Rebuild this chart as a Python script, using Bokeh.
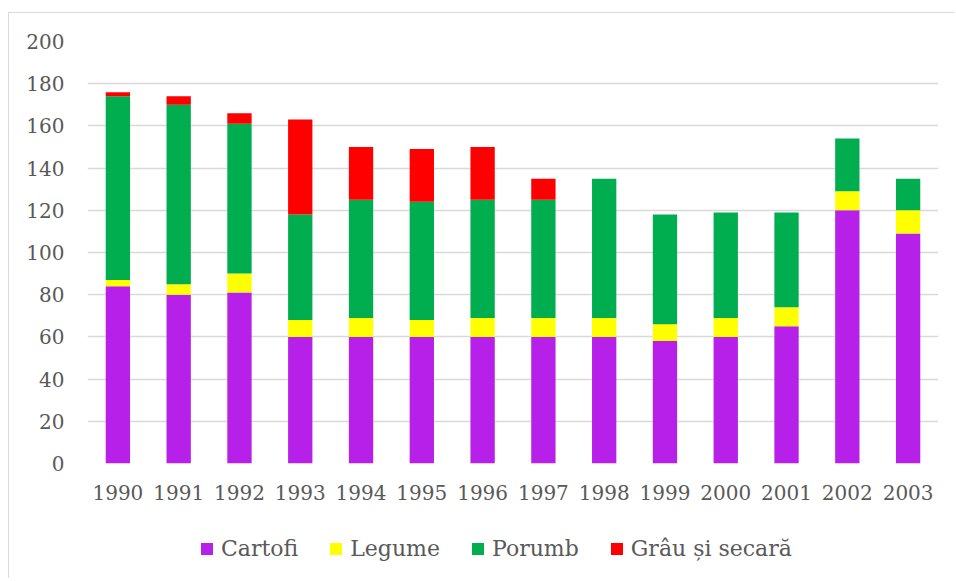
from bokeh.plotting import figure
from bokeh.layouts import column
from bokeh.models import Range1d, FixedTicker, Legend, LegendItem, ColumnDataSource
from bokeh.embed import file_html
from bokeh.resources import INLINE

years = ["1990", "1991", "1992", "1993", "1994", "1995", "1996",
         "1997", "1998", "1999", "2000", "2001", "2002", "2003"]
cartofi = [84, 80, 81, 60, 60, 60, 60, 60, 60, 58, 60, 65, 120, 109]
legume = [3, 5, 9, 8, 9, 8, 9, 9, 9, 8, 9, 9, 9, 11]
porumb = [87, 85, 71, 50, 56, 56, 56, 56, 66, 52, 50, 45, 25, 15]
grau = [2, 4, 5, 45, 25, 25, 25, 10, 0, 0, 0, 0, 0, 0]
series_names = ["Cartofi", "Legume", "Porumb", "Grâu și secară"]
colors = ["#B620E8", "#FFFF00", "#00AE4F", "#FF0000"]
y_ticks = [0, 20, 40, 60, 80, 100, 120, 140, 160, 180, 200]

FONT = "DejaVu Serif"
TXT = "#595959"

source = ColumnDataSource({"years": years, "c": cartofi, "l": legume,
                           "p": porumb, "g": grau})

p = figure(x_range=years, y_range=Range1d(0, 200), width=954, height=508,
           output_backend="svg", toolbar_location=None,
           min_border_left=87, min_border_right=16, min_border_top=41,
           min_border_bottom=45)
p.border_fill_color = None

p.vbar_stack(["c", "l", "p", "g"], x="years", width=0.4,
             color=colors, source=source, line_width=0)

p.outline_line_color = None
p.xgrid.grid_line_color = None
p.ygrid.grid_line_color = "#d9d9d9"
p.ygrid.grid_line_width = 1.3
p.yaxis.ticker = FixedTicker(ticks=y_ticks)
for ax in (p.xaxis[0], p.yaxis[0]):
    ax.axis_line_color = None
    ax.major_tick_line_color = None
    ax.minor_tick_line_color = None
    ax.major_label_text_font = FONT
    ax.major_label_text_font_size = "20px"
    ax.major_label_text_color = TXT
p.yaxis.major_label_standoff = 17
p.xaxis.major_label_standoff = 15

# legend strip below the chart (same stacked series, y window above the data so
# only the legend is visible)
pl = figure(width=954, height=70, x_range=p.x_range, y_range=Range1d(1000, 1001),
            output_backend="svg", toolbar_location=None,
            min_border=0, min_border_left=87, min_border_right=16,
            min_border_top=0, min_border_bottom=0)
pl.border_fill_color = None
pl.background_fill_color = None
pl.axis.visible = False
pl.grid.visible = False
pl.outline_line_color = None
leg_renderers = pl.vbar_stack(["c", "l", "p", "g"], x="years", width=0.4,
                              color=colors, source=source, line_width=0)

items = [LegendItem(label=n, renderers=[r]) for n, r in zip(series_names, leg_renderers)]
legend = Legend(items=items, orientation="horizontal", location=(112, 17),
                label_text_font=FONT, label_text_font_size="22px",
                label_text_color=TXT, glyph_width=15, glyph_height=15,
                label_standoff=7, spacing=30, border_line_color=None,
                background_fill_alpha=0, margin=0, padding=0)
pl.add_layout(legend, "center")

layout = column(p, pl, spacing=0)
layout.styles = {
    "background": ("linear-gradient(#d9d9d9, #d9d9d9) 8px 12px / 1px 100% no-repeat, "
                   "linear-gradient(#d9d9d9, #d9d9d9) 8px 12px / 100% 1px no-repeat, white"),
}
open("out.html", "w").write(file_html(layout, INLINE))
